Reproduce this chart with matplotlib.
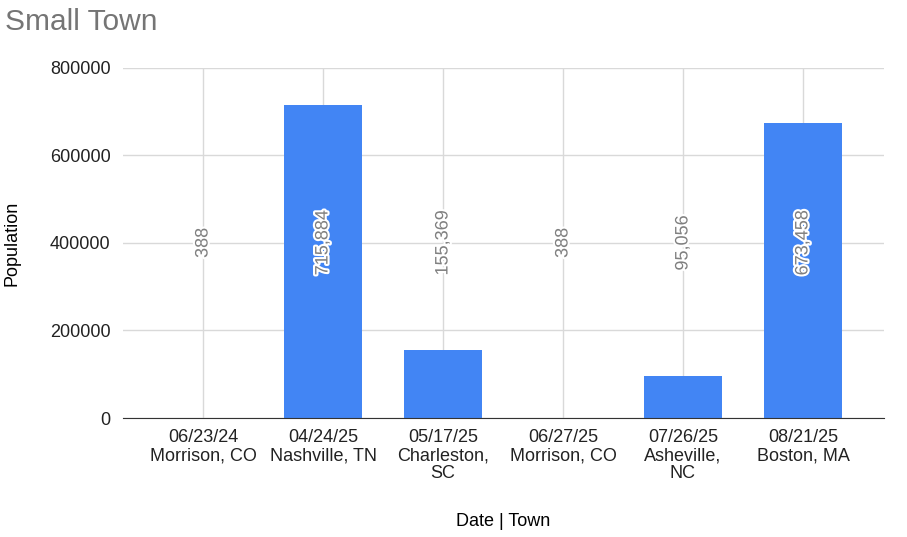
import numpy as np
import matplotlib.pyplot as plt
import matplotlib.patheffects as pe

plt.rcParams['font.family'] = ['Liberation Sans', 'DejaVu Sans']

dates = ["06/23/24", "04/24/25", "05/17/25", "06/27/25", "07/26/25", "08/21/25"]
towns = ["Morrison, CO", "Nashville, TN", "Charleston,\nSC", "Morrison, CO", "Asheville,\nNC", "Boston, MA"]
population = [388, 715884, 155369, 388, 95056, 673458]

labels = [d + "\n" + t for d, t in zip(dates, towns)]
x = np.arange(len(labels))

fig = plt.figure(figsize=(9.07, 5.37), dpi=100)
ax = fig.add_axes([0.1356, 0.2216, 0.839, 0.652])

ax.bar(x, population, width=0.65, color="#4285f4", zorder=3)

# rotated value labels in the middle of the plot
for xi, v in zip(x, population):
    ax.text(xi, 400000, f"{v:,}", rotation=90, ha="center", va="center",
            color="#808080", fontsize=13, zorder=4,
            path_effects=[pe.withStroke(linewidth=3, foreground="white")])

ax.set_xlim(-0.667, 5.675)
ax.set_ylim(0, 800000)
ax.set_yticks([0, 200000, 400000, 600000, 800000])
ax.set_yticklabels(["0", "200000", "400000", "600000", "800000"])
ax.set_xticks(x)
ax.set_xticklabels(labels, fontsize=13, linespacing=1.08)
ax.tick_params(axis="y", length=0, labelsize=13, pad=9, colors="#222222")
ax.tick_params(axis="x", length=0, pad=8, colors="#222222")
ax.grid(True, color="#d9d9d9", linewidth=1, zorder=0)

for s in ["top", "right", "left"]:
    ax.spines[s].set_visible(False)
ax.spines["bottom"].set_color("#333333")
ax.spines["bottom"].set_zorder(5)

ax.set_ylabel("Population", fontsize=13, va="center")
ax.yaxis.set_label_coords(-0.146, 0.5)
ax.set_xlabel("Date | Town", fontsize=13, va="center")
ax.xaxis.set_label_coords(0.5, -0.297)

fig.text(0.005, 0.959, "Small Town", fontsize=21.5, color="#757575", va="center", ha="left")

fig.savefig("out.png", dpi=100)
